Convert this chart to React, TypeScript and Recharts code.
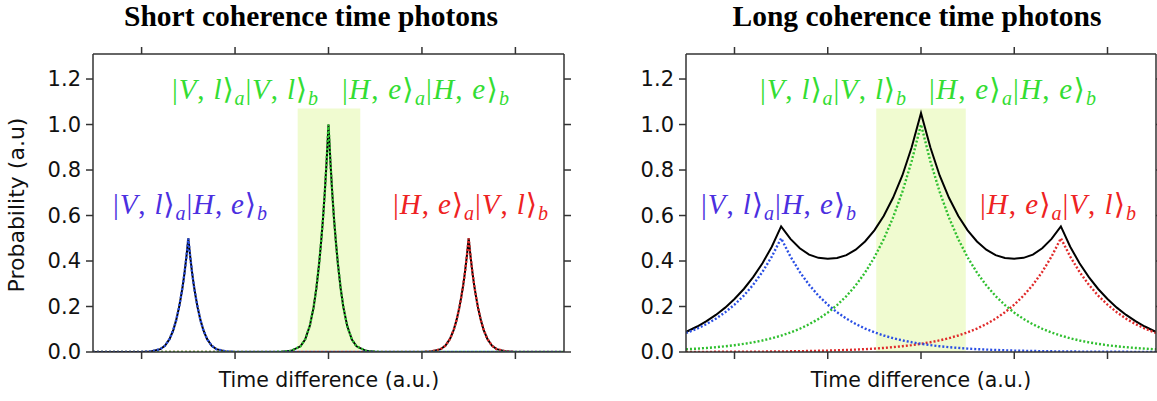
import React from 'react';
import { LineChart, Line, XAxis, YAxis, ReferenceArea } from 'recharts';

// ---- Short coherence time photons ----
const shortTime = [
  -2.52, -2.2,
  -2.0, -1.9, -1.8, -1.75, -1.7, -1.66, -1.63, -1.6, -1.58, -1.56, -1.54, -1.52, -1.5,
  -1.48, -1.46, -1.44, -1.42, -1.4, -1.37, -1.34, -1.3, -1.25, -1.2, -1.1, -1.0,
  -0.75,
  -0.5, -0.4, -0.3, -0.25, -0.2, -0.16, -0.13, -0.1, -0.08, -0.06, -0.04, -0.02, 0,
  0.02, 0.04, 0.06, 0.08, 0.1, 0.13, 0.16, 0.2, 0.25, 0.3, 0.4, 0.5,
  0.75,
  1.0, 1.1, 1.2, 1.25, 1.3, 1.34, 1.37, 1.4, 1.42, 1.44, 1.46, 1.48, 1.5,
  1.52, 1.54, 1.56, 1.58, 1.6, 1.63, 1.66, 1.7, 1.75, 1.8, 1.9, 2.0,
  2.2, 2.52,
];
const shortVlHe = [
  0, 0,
  0.0005, 0.0025, 0.0125, 0.0275, 0.0575, 0.0975, 0.14, 0.195, 0.24, 0.29, 0.35, 0.42, 0.5,
  0.42, 0.35, 0.29, 0.24, 0.195, 0.14, 0.0975, 0.0575, 0.0275, 0.0125, 0.0025, 0.0005,
  0,
  0, 0, 0, 0, 0, 0, 0, 0, 0, 0, 0, 0, 0,
  0, 0, 0, 0, 0, 0, 0, 0, 0, 0, 0, 0,
  0,
  0, 0, 0, 0, 0, 0, 0, 0, 0, 0, 0, 0, 0,
  0, 0, 0, 0, 0, 0, 0, 0, 0, 0, 0, 0,
  0, 0,
];
const shortSame = [
  0, 0,
  0, 0, 0, 0, 0, 0, 0, 0, 0, 0, 0, 0, 0,
  0, 0, 0, 0, 0, 0, 0, 0, 0, 0, 0, 0,
  0,
  0.001, 0.005, 0.025, 0.055, 0.115, 0.195, 0.28, 0.39, 0.48, 0.58, 0.7, 0.84, 1.0,
  0.84, 0.7, 0.58, 0.48, 0.39, 0.28, 0.195, 0.115, 0.055, 0.025, 0.005, 0.001,
  0,
  0, 0, 0, 0, 0, 0, 0, 0, 0, 0, 0, 0, 0,
  0, 0, 0, 0, 0, 0, 0, 0, 0, 0, 0, 0,
  0, 0,
];
const shortHeVl = [
  0, 0,
  0, 0, 0, 0, 0, 0, 0, 0, 0, 0, 0, 0, 0,
  0, 0, 0, 0, 0, 0, 0, 0, 0, 0, 0, 0,
  0,
  0, 0, 0, 0, 0, 0, 0, 0, 0, 0, 0, 0, 0,
  0, 0, 0, 0, 0, 0, 0, 0, 0, 0, 0, 0,
  0,
  0.0005, 0.0025, 0.0125, 0.0275, 0.0575, 0.0975, 0.14, 0.195, 0.24, 0.29, 0.35, 0.42, 0.5,
  0.42, 0.35, 0.29, 0.24, 0.195, 0.14, 0.0975, 0.0575, 0.0275, 0.0125, 0.0025, 0.0005,
  0, 0,
];
const shortTotal = [
  0, 0,
  0.0005, 0.0025, 0.0125, 0.0275, 0.0575, 0.0975, 0.14, 0.195, 0.24, 0.29, 0.35, 0.42, 0.5,
  0.42, 0.35, 0.29, 0.24, 0.195, 0.14, 0.0975, 0.0575, 0.0275, 0.0125, 0.0025, 0.0005,
  0,
  0.001, 0.005, 0.025, 0.055, 0.115, 0.195, 0.28, 0.39, 0.48, 0.58, 0.7, 0.84, 1.0,
  0.84, 0.7, 0.58, 0.48, 0.39, 0.28, 0.195, 0.115, 0.055, 0.025, 0.005, 0.001,
  0,
  0.0005, 0.0025, 0.0125, 0.0275, 0.0575, 0.0975, 0.14, 0.195, 0.24, 0.29, 0.35, 0.42, 0.5,
  0.42, 0.35, 0.29, 0.24, 0.195, 0.14, 0.0975, 0.0575, 0.0275, 0.0125, 0.0025, 0.0005,
  0, 0,
];

// ---- Long coherence time photons ----
const longTime = [
  -2.52, -2.4, -2.3, -2.2, -2.1, -2.0, -1.9, -1.8, -1.7, -1.6, -1.5, -1.4, -1.3, -1.2, -1.1, -1.0,
  -0.9, -0.8, -0.7, -0.6, -0.5, -0.4, -0.3, -0.2, -0.1, 0,
  0.1, 0.2, 0.3, 0.4, 0.5, 0.6, 0.7, 0.8, 0.9, 1.0, 1.1, 1.2, 1.3, 1.4, 1.5,
  1.6, 1.7, 1.8, 1.9, 2.0, 2.1, 2.2, 2.3, 2.4, 2.52,
];
const longVlHe = [
  0.0835, 0.1031, 0.1229, 0.1465, 0.1746, 0.208, 0.2479, 0.2954, 0.3521, 0.4196, 0.5,
  0.4196, 0.3521, 0.2954, 0.2479, 0.208, 0.1746, 0.1465, 0.1229, 0.1031, 0.0865, 0.0726,
  0.0609, 0.0511, 0.0429, 0.036,
  0.0302, 0.0254, 0.0213, 0.0179, 0.015, 0.0126, 0.0106, 0.0089, 0.0074, 0.0062, 0.0052,
  0.0044, 0.0037, 0.0031, 0.0026, 0.0022, 0.0018, 0.0016, 0.0013, 0.0011, 0.0009, 0.0008,
  0.0007, 0.0006, 0.0005,
];
const longSame = [
  0.012, 0.0148, 0.0177, 0.0211, 0.0251, 0.0299, 0.0357, 0.0425, 0.0507, 0.0604, 0.072,
  0.0858, 0.1022, 0.1218, 0.1452, 0.173, 0.2062, 0.2458, 0.2929, 0.3491, 0.416, 0.4958,
  0.5908, 0.7041, 0.8391, 1.0,
  0.8391, 0.7041, 0.5908, 0.4958, 0.416, 0.3491, 0.2929, 0.2458, 0.2062, 0.173, 0.1452,
  0.1218, 0.1022, 0.0858, 0.072, 0.0604, 0.0507, 0.0425, 0.0357, 0.0299, 0.0251, 0.0211,
  0.0177, 0.0148, 0.012,
];
const longHeVl = [
  0.0005, 0.0006, 0.0007, 0.0008, 0.0009, 0.0011, 0.0013, 0.0016, 0.0018, 0.0022, 0.0026,
  0.0031, 0.0037, 0.0044, 0.0052, 0.0062, 0.0074, 0.0089, 0.0106, 0.0126, 0.015, 0.0179,
  0.0213, 0.0254, 0.0302, 0.036,
  0.0429, 0.0511, 0.0609, 0.0726, 0.0865, 0.1031, 0.1229, 0.1465, 0.1746, 0.208, 0.2479,
  0.2954, 0.3521, 0.4196, 0.5, 0.4196, 0.3521, 0.2954, 0.2479, 0.208, 0.1746, 0.1465,
  0.1229, 0.1031, 0.0835,
];
const longTotal = [
  0.088, 0.112, 0.136, 0.163, 0.195, 0.233, 0.277, 0.329, 0.39, 0.463, 0.552,
  0.497, 0.456, 0.428, 0.414, 0.41, 0.413, 0.426, 0.45, 0.486, 0.535, 0.598,
  0.678, 0.776, 0.9, 1.05,
  0.9, 0.776, 0.678, 0.598, 0.535, 0.486, 0.45, 0.426, 0.413, 0.41, 0.414,
  0.428, 0.456, 0.497, 0.552, 0.463, 0.39, 0.329, 0.277, 0.233, 0.195, 0.163,
  0.136, 0.112, 0.088,
];

const timeTicks = [-2, -1, 0, 1, 2];
const probTicks = [0, 0.2, 0.4, 0.6, 0.8, 1.0, 1.2];
const timeDomain: [number, number] = [-2.52, 2.52];
const probDomain: [number, number] = [0, 1.31];

const titles = ['Short coherence time photons', 'Long coherence time photons'];
const xTitle = 'Time difference (a.u.)';
const yTitle = 'Probability (a.u)';

const BLUE = '#2a4fe4';
const GREEN = '#2fbf2f';
const RED = '#e02a2a';
const BLUE_TEXT = '#4b2fe0';
const GREEN_TEXT = '#33dd33';
const RED_TEXT = '#ee2222';
const BAND = '#f0fbd0';
const AXIS = '#333';

const SANS = "'DejaVu Sans', Verdana, sans-serif";
const SERIF = "'Liberation Serif', 'Times New Roman', 'DejaVu Serif', serif";

type Row = { t: number; vlhe: number; same: number; hevl: number; total: number };

const buildRows = (t: number[], a: number[], b: number[], c: number[], s: number[]): Row[] =>
  t.map((v, i) => ({ t: v, vlhe: a[i], same: b[i], hevl: c[i], total: s[i] }));

const shortRows = buildRows(shortTime, shortVlHe, shortSame, shortHeVl, shortTotal);
const longRows = buildRows(longTime, longVlHe, longSame, longHeVl, longTotal);

const blank = () => '';

type PanelProps = {
  rows: Row[];
  band: [number, number];
  left: number;
  width: number;
  margin: { top: number; right: number; bottom: number; left: number };
};

function Panel({ rows, band, left, width, margin }: PanelProps) {
  const axisLine = { stroke: AXIS, strokeWidth: 1.5 };
  const dotted = { strokeWidth: 2.4, strokeDasharray: '2 2', dot: false, isAnimationActive: false } as const;
  return (
    <div style={{ position: 'absolute', left, top: 0 }}>
      <LineChart width={width} height={401} data={rows} margin={margin}>
        <XAxis
          xAxisId="bottom"
          dataKey="t"
          type="number"
          domain={timeDomain}
          ticks={timeTicks}
          tickFormatter={blank}
          tickSize={7}
          height={1}
          axisLine={axisLine}
          tickLine={axisLine}
          allowDataOverflow
        />
        <XAxis
          xAxisId="top"
          orientation="top"
          dataKey="t"
          type="number"
          domain={timeDomain}
          ticks={timeTicks}
          tickFormatter={blank}
          tickSize={7}
          height={1}
          axisLine={axisLine}
          tickLine={axisLine}
          allowDataOverflow
        />
        <YAxis
          yAxisId="left"
          type="number"
          domain={probDomain}
          ticks={probTicks}
          tickFormatter={(v: number) => v.toFixed(1)}
          tickSize={7}
          tickMargin={5}
          width={60}
          axisLine={axisLine}
          tickLine={axisLine}
          tick={{ fill: '#111', fontSize: 21, fontFamily: SANS }}
          allowDataOverflow
        />
        <YAxis
          yAxisId="right"
          orientation="right"
          type="number"
          domain={probDomain}
          ticks={probTicks}
          tickFormatter={blank}
          tickSize={7}
          width={1}
          axisLine={axisLine}
          tickLine={axisLine}
          allowDataOverflow
        />
        <ReferenceArea
          xAxisId="bottom"
          yAxisId="left"
          x1={band[0]}
          x2={band[1]}
          y1={0}
          y2={1.07}
          fill={BAND}
          fillOpacity={1}
          stroke="none"
        />
        <Line xAxisId="bottom" yAxisId="left" type="linear" dataKey="total" stroke="#000" strokeWidth={2} dot={false} isAnimationActive={false} />
        <Line xAxisId="bottom" yAxisId="left" type="linear" dataKey="hevl" stroke={RED} {...dotted} />
        <Line xAxisId="bottom" yAxisId="left" type="linear" dataKey="same" stroke={GREEN} {...dotted} />
        <Line xAxisId="bottom" yAxisId="left" type="linear" dataKey="vlhe" stroke={BLUE} {...dotted} />
      </LineChart>
    </div>
  );
}

// A two-photon ket product |X,x>_a |Y,y>_b set in math style
function KetPair({ x, y, w, color, a, b }: { x: number; y: number; w: number; color: string; a: [string, string]; b: [string, string] }) {
  return (
    <text x={x} y={y} fill={color} fontFamily={SERIF} fontSize={29} textLength={w} lengthAdjust="spacing">
      <tspan>|</tspan>
      <tspan fontStyle="italic">{a[0]}</tspan>
      <tspan>, </tspan>
      <tspan fontStyle="italic">{a[1]}</tspan>
      <tspan>⟩</tspan>
      <tspan fontStyle="italic" fontSize={20} dy={6}>a</tspan>
      <tspan dy={-6}>|</tspan>
      <tspan fontStyle="italic">{b[0]}</tspan>
      <tspan>, </tspan>
      <tspan fontStyle="italic">{b[1]}</tspan>
      <tspan>⟩</tspan>
      <tspan fontStyle="italic" fontSize={20} dy={6}>b</tspan>
    </text>
  );
}

const VL: [string, string] = ['V', 'l'];
const HE: [string, string] = ['H', 'e'];

export default function App() {
  return (
    <div style={{ position: 'absolute', left: 0, top: 0, width: 1157, height: 401, background: '#fff', overflow: 'hidden' }}>
      <Panel rows={shortRows} band={[-0.33, 0.34]} left={0} width={580} margin={{ top: 53, right: 15, bottom: 48, left: 33 }} />
      <Panel rows={longRows} band={[-0.48, 0.48]} left={600} width={557} margin={{ top: 53, right: 0, bottom: 48, left: 26 }} />
      <svg width={1157} height={401} style={{ position: 'absolute', left: 0, top: 0, pointerEvents: 'none' }}>
        <text x={311} y={26} textAnchor="middle" fontFamily={SERIF} fontWeight="bold" fontSize={29.5} fill="#000">{titles[0]}</text>
        <text x={917} y={26} textAnchor="middle" fontFamily={SERIF} fontWeight="bold" fontSize={29.5} fill="#000">{titles[1]}</text>
        <text x={329} y={387} textAnchor="middle" fontFamily={SANS} fontSize={20.5} fill="#111">{xTitle}</text>
        <text x={921} y={387} textAnchor="middle" fontFamily={SANS} fontSize={20.5} fill="#111">{xTitle}</text>
        <text transform="translate(24,205) rotate(-90)" textAnchor="middle" fontFamily={SANS} fontSize={22} fill="#111">{yTitle}</text>

        <KetPair x={172} y={99} w={146} color={GREEN_TEXT} a={VL} b={VL} />
        <KetPair x={342} y={99} w={167} color={GREEN_TEXT} a={HE} b={HE} />
        <KetPair x={113} y={214} w={154} color={BLUE_TEXT} a={VL} b={HE} />
        <KetPair x={393} y={214} w={155} color={RED_TEXT} a={HE} b={VL} />

        <KetPair x={760} y={99} w={146} color={GREEN_TEXT} a={VL} b={VL} />
        <KetPair x={929} y={99} w={167} color={GREEN_TEXT} a={HE} b={HE} />
        <KetPair x={701} y={214} w={155} color={BLUE_TEXT} a={VL} b={HE} />
        <KetPair x={980} y={214} w={156} color={RED_TEXT} a={HE} b={VL} />
      </svg>
    </div>
  );
}
